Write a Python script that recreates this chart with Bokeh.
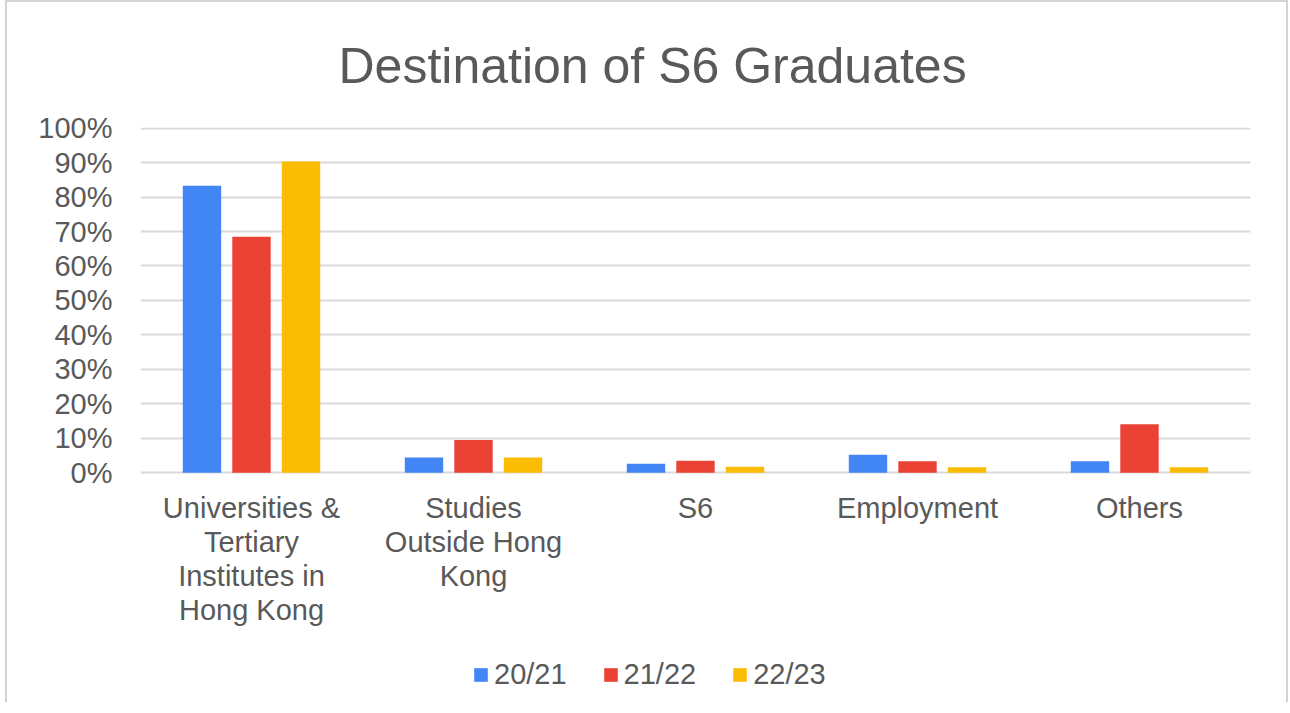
from bokeh.plotting import figure
from bokeh.models import FixedTicker, Legend, LegendItem, NumeralTickFormatter, Range1d
from bokeh.core.properties import value
from bokeh.embed import file_html
from bokeh.resources import INLINE
from bokeh.transform import dodge

categories = ["Universities & Tertiary Institutes in Hong Kong",
              "Studies Outside Hong Kong", "S6", "Employment", "Others"]
tick_labels = ["Universities &\nTertiary\nInstitutes in\nHong Kong",
               "Studies\nOutside Hong\nKong", "S6", "Employment", "Others"]
series_names = ["20/21", "21/22", "22/23"]
y_2021 = [0.833, 0.044, 0.026, 0.052, 0.033]
y_2122 = [0.685, 0.095, 0.035, 0.033, 0.141]
y_2223 = [0.903, 0.044, 0.017, 0.016, 0.016]
colors = ["#4285F4", "#EA4335", "#FBBC04"]

FONT = "Liberation Sans"
TXT = "#595959"

xs = list(range(len(categories)))
data = dict(x=xs, a=y_2021, b=y_2122, c=y_2223,
            base=[0] * len(categories), label=tick_labels)

p = figure(frame_width=1110, frame_height=575, output_backend="svg", toolbar_location=None,
           x_range=Range1d(-0.5, 4.5), y_range=Range1d(-0.667, 1.002),
           min_border_left=133, min_border_right=36, min_border_top=120,
           min_border_bottom=0)
p.styles = {"border": "2px solid #d4d4d4", "border-bottom": "none",
            "margin-left": "5px", "margin-top": "0px"}

renderers = []
for key, off, col in zip(["a", "b", "c"], [-0.223, 0.0, 0.223], colors):
    r = p.vbar(x=dodge("x", off), top=key, width=0.173, bottom=0, source=data,
               fill_color=col, line_color=None)
    renderers.append(r)

# category labels under the zero line
p.text(x="x", y="base", text="label", source=data, y_offset=19,
       text_align="center", text_baseline="top", text_font=value(FONT),
       text_font_size="29px", text_color=TXT, text_line_height=1.07)

p.title.text = "Destination of S6 Graduates"
p.title.align = "left"
p.title.offset = 198
p.title.text_font = FONT
p.title.text_font_size = "50px"
p.title.text_font_style = "normal"
p.title.text_color = TXT
p.title.standoff = 67

p.outline_line_color = None
p.xgrid.grid_line_color = None
p.ygrid.grid_line_color = "#d9d9d9"
p.ygrid.grid_line_width = 2

p.yaxis.ticker = FixedTicker(ticks=[i / 10 for i in range(11)])
p.yaxis.formatter = NumeralTickFormatter(format="0%")
p.yaxis.axis_line_color = None
p.yaxis.major_tick_line_color = None
p.yaxis.minor_tick_line_color = None
p.yaxis.major_label_text_font = FONT
p.yaxis.major_label_text_font_size = "29px"
p.yaxis.major_label_text_color = TXT
p.yaxis.major_label_standoff = 22

p.xaxis.visible = False

legend = Legend(items=[LegendItem(label=n, renderers=[r]) for n, r in zip(series_names, renderers)],
                orientation="horizontal", location=(332, 11),
                label_text_font=FONT, label_text_font_size="29px", label_text_color=TXT,
                glyph_width=17, glyph_height=17, label_standoff=5, spacing=35,
                background_fill_alpha=0, border_line_color=None, padding=0, margin=0)
p.add_layout(legend, "center")

open("out.html", "w").write(file_html(p, INLINE))
